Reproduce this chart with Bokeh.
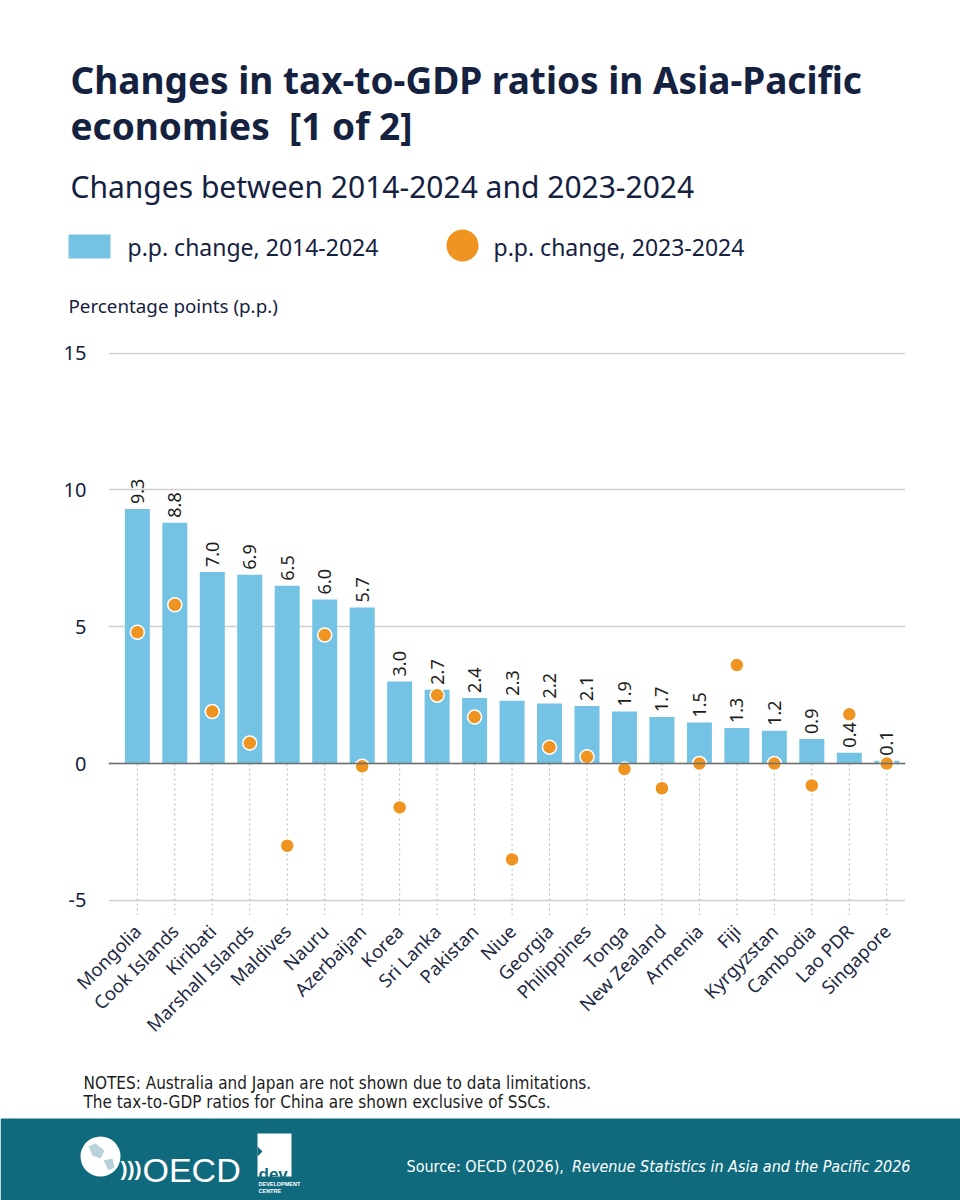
import math
from bokeh.plotting import figure
from bokeh.layouts import column
from bokeh.models import Range1d, FixedTicker, Span
from bokeh.core.properties import value
from bokeh.embed import file_html
from bokeh.resources import INLINE

# ---- data -------------------------------------------------------------
economies = ["Mongolia", "Cook Islands", "Kiribati", "Marshall Islands", "Maldives",
             "Nauru", "Azerbaijan", "Korea", "Sri Lanka", "Pakistan", "Niue", "Georgia",
             "Philippines", "Tonga", "New Zealand", "Armenia", "Fiji", "Kyrgyzstan",
             "Cambodia", "Lao PDR", "Singapore"]
change_2014_2024 = [9.3, 8.8, 7.0, 6.9, 6.5, 6.0, 5.7, 3.0, 2.7, 2.4, 2.3, 2.2,
                    2.1, 1.9, 1.7, 1.5, 1.3, 1.2, 0.9, 0.4, 0.1]
change_2023_2024 = [4.8, 5.8, 1.9, 0.75, -3.0, 4.7, -0.1, -1.6, 2.5, 1.7, -3.5, 0.6,
                    0.25, -0.2, -0.9, 0.0, 3.6, 0.0, -0.8, 1.8, 0.0]
y_ticks = [-5, 0, 5, 10, 15]

# ---- styling ----------------------------------------------------------
NAVY = "#14213f"
TEXT = "#1d1d1d"
BLUE = "#74c3e4"
ORANGE = "#ef9420"
TEAL = "#0f6a7e"
FONT = "Noto Sans"
NARROW = "DejaVu Sans Condensed, Noto Sans"
LOGO = "Liberation Sans"
W = 960


def blank(height):
    """A figure whose data coordinates are its own pixel coordinates (y down)."""
    f = figure(width=W, height=height, x_range=Range1d(0, W), y_range=Range1d(height, 0),
               output_backend="svg", toolbar_location=None, min_border=0,
               frame_align=False)
    f.axis.visible = False
    f.grid.visible = False
    f.outline_line_color = None
    f.background_fill_color = "white"
    f.border_fill_color = "white"
    return f


def write(f, x, y, text, size, color=NAVY, font=FONT, style="normal", align="left"):
    f.text(x=[x], y=[y], text=[text], text_font=value(font), text_font_size=size,
           text_font_style=style, text_color=color, text_align=align,
           text_baseline="alphabetic")


# ---- header: title, subtitle, legend ----------------------------------
HEAD_H = 340
head = blank(HEAD_H)
write(head, 70, 79, "Changes in tax-to-GDP ratios in Asia-Pacific", "37px", style="bold")
write(head, 70, 125, "economies\u00a0 [1 of 2]", "37px", style="bold")
write(head, 70, 186, "Changes between 2014-2024 and 2023-2024", "30px")

head.rect(x=[89], y=[246], width=42, height=24, fill_color=BLUE, line_color=None)
write(head, 127, 246, "p.p. change, 2014-2024", "23px")
head.scatter(x=[462], y=[245], size=32, fill_color=ORANGE, line_color=None)
write(head, 493, 246, "p.p. change, 2023-2024", "23px")

write(head, 68, 305, "Percentage points (p.p.)", "18.8px")

# ---- main chart ---------------------------------------------------------
idx = list(range(len(economies)))
MAIN_H = 708
p = figure(width=W, height=MAIN_H, x_range=Range1d(-0.77, len(economies) - 0.5),
           y_range=Range1d(-5.55, 15.02), output_backend="svg", toolbar_location=None,
           min_border_left=108, min_border_right=55, min_border_top=12,
           min_border_bottom=125, frame_align=False)
p.outline_line_color = None
p.background_fill_color = "white"
p.border_fill_color = "white"

p.xgrid.visible = False
p.ygrid.ticker = FixedTicker(ticks=y_ticks)
p.ygrid.grid_line_color = "#cfcfcf"
p.ygrid.grid_line_width = 1.3

p.yaxis.ticker = FixedTicker(ticks=y_ticks)
p.yaxis.major_label_overrides = {t: str(t) for t in y_ticks}
p.yaxis.axis_line_color = None
p.yaxis.major_tick_line_color = None
p.yaxis.minor_tick_line_color = None
p.yaxis.major_label_standoff = 16
p.yaxis.major_label_text_font = FONT
p.yaxis.major_label_text_font_size = "20px"
p.yaxis.major_label_text_color = NAVY

p.xaxis.ticker = FixedTicker(ticks=idx)
p.xaxis.major_label_overrides = {i: name for i, name in zip(idx, economies)}
p.xaxis.major_label_orientation = math.pi / 4
p.xaxis.axis_line_color = None
p.xaxis.major_tick_line_color = None
p.xaxis.minor_tick_line_color = None
p.xaxis.major_label_standoff = 6
p.xaxis.major_label_text_font = FONT
p.xaxis.major_label_text_font_size = "18.5px"
p.xaxis.major_label_text_color = "#1f2a44"

# dotted guides below the zero line
p.segment(x0=idx, y0=[0] * len(idx), x1=idx, y1=[-5.55] * len(idx),
          line_color="#b5b5b5", line_width=1, line_dash="2 3")

p.vbar(x=idx, top=change_2014_2024, width=0.667, fill_color=BLUE, line_color=None)
p.add_layout(Span(location=0, dimension="width", line_color="#707070", line_width=1.5))

p.text(x=idx, y=change_2014_2024, text=[f"{v:.1f}" for v in change_2014_2024],
       angle=math.pi / 2, text_align="left", text_baseline="middle", y_offset=-5,
       text_font=value(FONT), text_font_size="18px", text_color=TEXT)

p.scatter(x=idx, y=change_2023_2024, size=14, fill_color=ORANGE,
          line_color="white", line_width=1.5)

# ---- footer: notes and source band ------------------------------------
TOP = HEAD_H + MAIN_H           # page y where the footer starts
FOOT_H = 1200 - TOP
foot = blank(FOOT_H)


def fy(page_y):
    return page_y - TOP


write(foot, 83, fy(1082), "NOTES: Australia and Japan are not shown due to data limitations.",
      "17px", color=TEXT, font=NARROW)
write(foot, 83, fy(1101), "The tax-to-GDP ratios for China are shown exclusive of SSCs.",
      "17px", color=TEXT, font=NARROW)

band_top = fy(1118)
foot.rect(x=[W / 2], y=[(band_top + FOOT_H) / 2], width=W, height=FOOT_H - band_top,
          fill_color=TEAL, line_color=None)

# OECD mark: globe, chevrons and wordmark
foot.scatter(x=[100], y=[fy(1156)], size=40, fill_color="white", line_color=None)
foot.patch(x=[88, 95, 104, 100, 92], y=[fy(1146), fy(1143), fy(1150), fy(1158), fy(1155)],
           fill_color=TEAL, fill_alpha=0.3, line_color=None)
foot.patch(x=[103, 112, 114, 108], y=[fy(1160), fy(1158), fy(1167), fy(1170)],
           fill_color=TEAL, fill_alpha=0.3, line_color=None)
write(foot, 120, fy(1168), ")))", "21px", color="white", font=LOGO, style="bold")
write(foot, 142, fy(1169), "OECD", "34px", color="white", font=LOGO)
# Development Centre block
foot.rect(x=[274], y=[fy(1154.5)], width=34, height=43, fill_color="white", line_color=None)
foot.patch(x=[257, 262, 257], y=[fy(1146), fy(1151), fy(1156)], fill_color=TEAL,
           line_color=None)
write(foot, 258, fy(1174), "dev", "17px", color=TEAL, font=LOGO, style="bold")
write(foot, 258, fy(1183), "DEVELOPMENT", "5.5px", color="white", font=LOGO, style="bold")
write(foot, 258, fy(1190), "CENTRE", "5.5px", color="white", font=LOGO, style="bold")

write(foot, 406, fy(1166), "Source: OECD (2026),", "16px", color="white", font=NARROW)
write(foot, 910, fy(1166), "Revenue Statistics in Asia and the Pacific 2026", "16px",
      color="white", font=NARROW, style="italic", align="right")

layout = column(head, p, foot, spacing=0)
open("out.html", "w").write(file_html(layout, INLINE))
